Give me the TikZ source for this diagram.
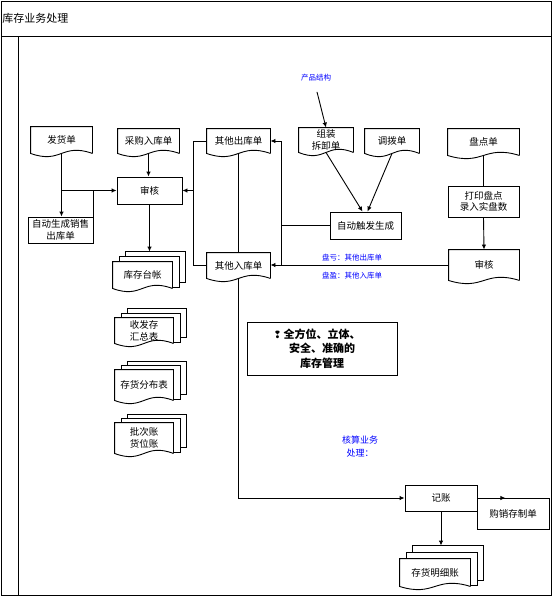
\documentclass[tikz,border=0pt]{standalone}
\usepackage{fontspec}
\newfontfamily\cjk{Noto Sans CJK SC}
\newfontfamily\djv{DejaVu Sans}
\usetikzlibrary{calc,arrows.meta}
\newcommand\docwave[1]{\draw (#1.south east) -- (#1.north east) -- (#1.north west) -- (#1.south west) .. controls ($(#1.south)+(0,11)$) and ($(#1.south)+(0,-11)$) .. (#1.south east);}
\newcommand\mdoc[2]{%
  \draw ($(#1.north west)+(6.5,0)$) -- ++(0,{-#2}) -| ($(#1.south east)+(6.5,-1)$) -- ($(#1.south east)+(0,-1)$);
  \draw ($(#1.north west)+(13,{-#2})$) -- ++(0,{-#2}) -| ($(#1.south east)+(13,-6)$) -- ($(#1.south east)+(6.5,-6)$);
  \coordinate (#1top) at ($(#1.north)+(0,{-2*#2})$);}
\begin{document}
\begin{tikzpicture}[x=1pt,y=-1pt, line width=0.9pt,
  every node/.style={font=\cjk\fontsize{9.5}{11.5}\selectfont, inner sep=0pt, align=center},
  box/.style={draw, rectangle},
  doc/.style={rectangle},
  lbl/.style={text=blue, font=\cjk\fontsize{7.5}{9}\selectfont},
  arr/.style={-{Latex[length=5pt,width=4.5pt]}}]
\useasboundingbox (0,0) rectangle (554,597);
% frame
\draw (1,1) rectangle (551,595);
\draw (1,36) -- (551,36);
\draw (18,36) -- (18,595);
\node[anchor=west, font=\cjk\fontsize{11}{13}\selectfont] (title) at (2,18) {库存业务处理};

% documents
\node[doc, minimum width=61, minimum height=26] (fhd) at (61.5,140) {发货单};
\node[doc, minimum width=61, minimum height=24] (cgrk) at (148.5,141) {采购入库单};
\node[doc, minimum width=63, minimum height=24] (qtck) at (238.5,141) {其他出库单};
\node[doc, minimum width=54, minimum height=24, font=\cjk\fontsize{9.5}{12}\selectfont] (zzcx) at (326,140) {组装\\拆卸单};
\node[doc, minimum width=54, minimum height=24] (dbd) at (392,141) {调拨单};
\node[doc, minimum width=71, minimum height=26] (pdd) at (483.5,142) {盘点单};
\node[doc, minimum width=63, minimum height=25] (qtrk) at (238.5,265.5) {其他入库单};
\node[doc, minimum width=70, minimum height=30] (sh2) at (484,265) {审核};
\foreach \n in {fhd,cgrk,qtck,zzcx,dbd,pdd,qtrk,sh2} {\docwave{\n}}

% boxes
\node[box, minimum width=65, minimum height=27] (sh1) at (149.5,190.5) {审核};
\node[box, minimum width=65, minimum height=26] (zdsc) at (60.5,230) {自动生成销售\\出库单};
\node[box, minimum width=71, minimum height=27] (zdcf) at (365.5,225.5) {自动触发生成};
\node[box, minimum width=71, minimum height=31] (dypd) at (483.5,201.5) {打印盘点\\录入实盘数};
\node[box, minimum width=150, minimum height=53, font=\cjk\bfseries\fontsize{11}{14.5}\selectfont] (mgmt) at (322,348.5) {\llap{{\djv\fontsize{10}{12}\selectfont ❢}\,}全方位、立体、\\安全、准确的\\库存管理};
\node[box, minimum width=72, minimum height=26] (jz) at (441,498) {记账};
\node[box, minimum width=72, minimum height=31] (gxc) at (513,513.5) {购销存制单};

% multi documents
\node[doc, minimum width=59, minimum height=26] (kctz) at (142.5,275) {库存台帐};
\node[doc, minimum width=58, minimum height=25, font=\cjk\fontsize{9.5}{12}\selectfont] (sfc) at (144,330.5) {收发存\\汇总表};
\node[doc, minimum width=58, minimum height=30] (chfb) at (144,385) {存货分布表};
\node[doc, minimum width=58, minimum height=30, font=\cjk\fontsize{9.5}{12}\selectfont] (pcz) at (144,438) {批次账\\货位账};
\node[doc, minimum width=70, minimum height=27] (chmx) at (435,572.5) {存货明细账};
\foreach \n/\d in {kctz/5,sfc/4.5,chfb/4,pcz/4,chmx/6.5} {\docwave{\n}\mdoc{\n}{\d}}

% labels
\node[lbl] (cpjg) at (316,78) {产品结构};
\node[lbl] (pk) at (352,258) {盘亏：其他出库单};
\node[lbl] (py) at (352,276) {盘盈：其他入库单};
\node[text=blue, font=\cjk\fontsize{9}{13}\selectfont] (hsyw) at (360,447) {核算业务\\处理：};

% connectors
\draw[arr] (fhd.south) -- (fhd.south |- zdsc.north);
\draw[arr] (fhd.south |- sh1.west) -- (sh1.west);
\draw (zdsc.north east) -- (zdsc.north east |- sh1.west);
\draw[arr] (cgrk.south) -- (cgrk.south |- sh1.north);
\draw[arr] (sh1.south) -- (sh1.south |- kctztop);
\coordinate (bus1) at ($(qtck.west)+(-13,0)$);
\draw (qtck.west) -- (bus1) |- (qtrk.west);
\draw[arr] (bus1 |- sh1.east) -- (sh1.east);
\draw (qtck.south) -- (qtrk.north);
\draw[arr] (qtrk.south) |- (jz.west);
\coordinate (bus2) at ($(zdcf.west)+(-48,0)$);
\draw[arr] (zdcf.west) -- (bus2) |- (qtck.east);
\draw (bus2) -- (bus2 |- qtrk.east);
\draw[arr] (sh2.west) -- (sh2.west -| qtrk.east);
\draw[arr] ($(cpjg.south)+(1,10)$) -- (zzcx.north);
\draw[arr] (zzcx.south) -- ($(zdcf.north)+(-3,0)$);
\draw[arr] (dbd.south) -- ($(zdcf.north)+(2,0)$);
\draw (pdd.south) -- (dypd.north);
\draw[arr] (dypd.south) -- (sh2.north);
\draw[arr] (jz.south) -- (jz.south |- chmxtop);
\coordinate (gxcin) at ($(jz.east)+(28,0)$);
\draw[arr] (jz.east) -- (gxcin);
\end{tikzpicture}
\end{document}
